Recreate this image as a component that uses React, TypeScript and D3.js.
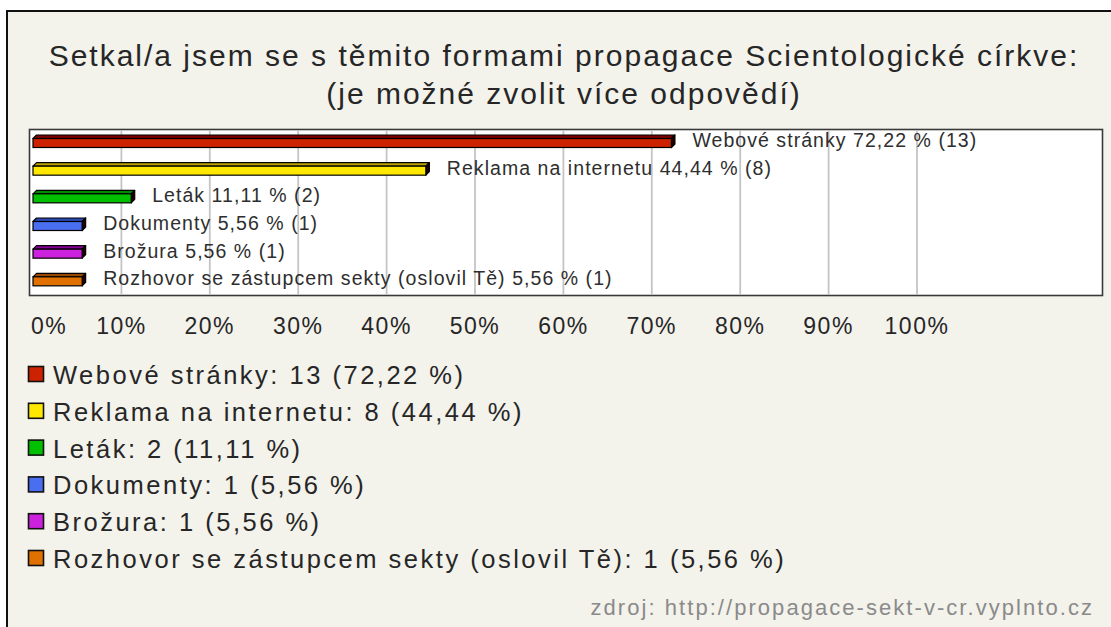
import React from 'react';
import * as d3 from 'd3';

const titleLines = ['Setkal/a jsem se s těmito formami propagace Scientologické církve:', '(je možné zvolit více odpovědí)'];
const categories = ['Webové stránky', 'Reklama na internetu', 'Leták', 'Dokumenty', 'Brožura', 'Rozhovor se zástupcem sekty (oslovil Tě)'];
const counts = [13, 8, 2, 1, 1, 1];
const percents = [72.22, 44.44, 11.11, 5.56, 5.56, 5.56];
const frontColors = ['#cc2200', '#ffe800', '#00c000', '#4a6ef0', '#cc22dd', '#e07000'];
const topColors = ['#7a0000', '#bba400', '#008a00', '#2a48b0', '#880099', '#9a4800'];
const legendColors = ['#cc2200', '#ffe800', '#00c000', '#4a6ef0', '#cc22dd', '#e07000'];
const tickValues = [0, 10, 20, 30, 40, 50, 60, 70, 80, 90, 100];
const sourceText = 'zdroj: http://propagace-sekt-v-cr.vyplnto.cz';

const FONT = '"Liberation Sans", Arial, Helvetica, sans-serif';
const fmt = (p: number) => p.toFixed(2).replace('.', ',');

export default function App() {
  const W = 1111, H = 627;
  const plot = { x: 29.5, y: 129.5, w: 1073, h: 166 };
  const x = d3.scaleLinear().domain([0, 100]).range([33, 917]);
  const y = d3.scaleBand<number>().domain(d3.range(categories.length)).range([plot.y, plot.y + plot.h]);
  const d = 3.5;
  const barH = 9;
  const legendY = d3.scaleLinear().domain([0, 1]).range([384, 420.8]);

  return (
    <svg width={W} height={H} style={{ position: 'absolute', left: 0, top: 0 }} fontFamily={FONT}>
      <rect x={0} y={0} width={W} height={H} fill="#ffffff" />
      <rect x={7} y={11} width={W + 20} height={H + 20} fill="#f3f2eb" stroke="#111" strokeWidth={2} />
      {titleLines.map((t, i) => (
        <text key={i} x={564} y={i === 0 ? 66 : 104} textAnchor="middle" fontSize={30} letterSpacing={2} fill="#262626">{t}</text>
      ))}
      <rect x={plot.x} y={plot.y} width={plot.w} height={plot.h} fill="#ffffff" stroke="#3a3a3a" strokeWidth={1.6} />
      {tickValues.filter(v => v > 0).map(v => (
        <line key={v} x1={x(v)} x2={x(v)} y1={plot.y + 1} y2={plot.y + plot.h - 1} stroke="#c4c4c4" strokeWidth={1.8} />
      ))}
      {percents.map((p, i) => {
        const x0 = x(0), x1 = x(p);
        const y0 = (y(i) as number) + 9;
        const top = `${x0},${y0} ${x0 + d},${y0 - d} ${x1 + d},${y0 - d} ${x1},${y0}`;
        const side = `${x1},${y0} ${x1 + d},${y0 - d} ${x1 + d},${y0 + barH - d} ${x1},${y0 + barH}`;
        return (
          <g key={i}>
            <polygon points={top} fill={topColors[i]} stroke="#000" strokeWidth={1.2} strokeLinejoin="round" />
            <polygon points={side} fill="#200000" stroke="#000" strokeWidth={1.2} strokeLinejoin="round" />
            <rect x={x0} y={y0} width={x1 - x0} height={barH} fill={frontColors[i]} stroke="#000" strokeWidth={1.2} />
            <text x={x1 + 21} y={(y(i) as number) + 17.5} fontSize={19.5} letterSpacing={1.05} fill="#2e2e2e">
              {`${categories[i]} ${fmt(p)} % (${counts[i]})`}
            </text>
          </g>
        );
      })}
      {tickValues.map((v, i) => (
        <text key={v} x={i === 0 ? 31 : x(v)} y={334} textAnchor={i === 0 ? 'start' : 'middle'} fontSize={23} letterSpacing={1.5} fill="#262626">{`${v}%`}</text>
      ))}
      {categories.map((c, i) => {
        const by = legendY(i);
        return (
          <g key={i}>
            <rect x={28.5} y={by - 17.5} width={15} height={15} fill={legendColors[i]} stroke="#111" strokeWidth={1.6} />
            <text x={53} y={by} fontSize={25.5} letterSpacing={2.5} fill="#262626">{`${c}: ${counts[i]} (${fmt(percents[i])} %)`}</text>
          </g>
        );
      })}
      <text x={1094} y={615} textAnchor="end" fontSize={22} letterSpacing={2.05} fill="#8a8a8a">{sourceText}</text>
    </svg>
  );
}
